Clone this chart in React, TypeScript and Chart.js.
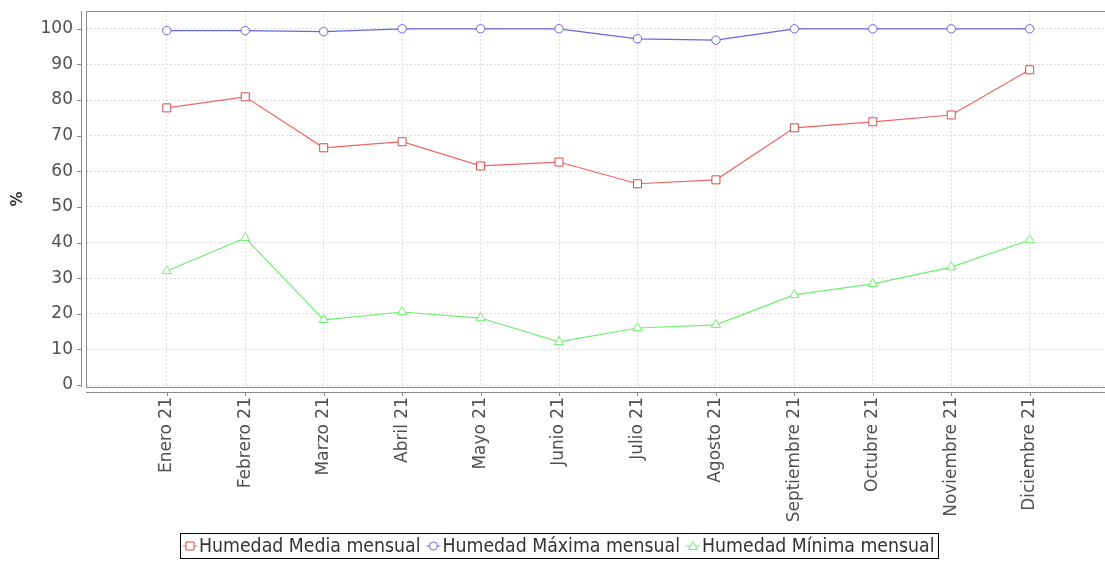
import React, { useEffect, useRef } from "react";
import { Chart, registerables } from "chart.js";

Chart.register(...registerables);

const MONTHS = [
  "Enero 21", "Febrero 21", "Marzo 21", "Abril 21", "Mayo 21", "Junio 21",
  "Julio 21", "Agosto 21", "Septiembre 21", "Octubre 21", "Noviembre 21", "Diciembre 21",
];
const MEDIA = [77.8, 80.9, 66.6, 68.3, 61.5, 62.6, 56.5, 57.6, 72.2, 73.9, 75.8, 88.5];
const MAXIMA = [99.5, 99.5, 99.2, 100, 100, 100, 97.2, 96.8, 100, 100, 100, 100];
const MINIMA = [32.0, 41.3, 18.3, 20.5, 18.8, 12.1, 16.0, 16.9, 25.3, 28.4, 33.1, 40.7];
const Y_TICKS = [0, 10, 20, 30, 40, 50, 60, 70, 80, 90, 100];
const SERIES_NAMES = ["Humedad Media mensual", "Humedad Máxima mensual", "Humedad Mínima mensual"];

const RED = "#f06464";
const RED_PT = "#d84c4c";
const BLUE = "#6666e0";
const GREEN = "#70ee70";

const toPoints = (arr: number[]) => arr.map((y, i) => ({ x: i, y }));

const framePlugin = {
  id: "frame",
  beforeDatasetsDraw(chart: any) {
    const { ctx, chartArea } = chart;
    const { left, right, top, bottom } = chartArea;
    ctx.save();
    ctx.strokeStyle = "#8a8a8a";
    ctx.lineWidth = 1;
    ctx.beginPath();
    ctx.moveTo(right, top + 0.5);
    ctx.lineTo(left + 0.5, top + 0.5);
    ctx.lineTo(left + 0.5, bottom + 0.5);
    ctx.lineTo(right, bottom + 0.5);
    ctx.moveTo(left - 5 + 0.5, top);
    ctx.lineTo(left - 5 + 0.5, bottom);
    ctx.moveTo(left, bottom + 5.5);
    ctx.lineTo(right, bottom + 5.5);
    ctx.stroke();
    const ys = chart.scales.y;
    ctx.beginPath();
    Y_TICKS.forEach((v) => {
      const py = Math.round(ys.getPixelForValue(v)) + 0.5;
      ctx.moveTo(left - 9, py);
      ctx.lineTo(left - 5, py);
    });
    const xs = chart.scales.x;
    MONTHS.forEach((_, i) => {
      const px = Math.round(xs.getPixelForValue(i)) + 0.5;
      ctx.moveTo(px, bottom + 6);
      ctx.lineTo(px, bottom + 9);
    });
    ctx.stroke();
    ctx.restore();
  },
};

function drawMarker(ctx: CanvasRenderingContext2D, style: string, x: number, y: number, color: string) {
  ctx.save();
  ctx.strokeStyle = color;
  ctx.fillStyle = "#fff";
  ctx.lineWidth = 1;
  ctx.beginPath();
  if (style === "rect") {
    ctx.rect(x - 4, y - 4, 8, 8);
  } else if (style === "circle") {
    ctx.arc(x, y, 4, 0, Math.PI * 2);
  } else {
    ctx.moveTo(x, y - 4.5);
    ctx.lineTo(x + 4.5, y + 3.5);
    ctx.lineTo(x - 4.5, y + 3.5);
    ctx.closePath();
  }
  ctx.fill();
  ctx.stroke();
  ctx.restore();
}

const legendPlugin = {
  id: "boxLegend",
  afterDraw(chart: any) {
    const { ctx } = chart;
    const dsets = chart.data.datasets;
    ctx.save();
    ctx.font = '19.3px "DejaVu Sans Condensed", "DejaVu Sans", sans-serif';
    const symW = 14;
    const gapText = 2;
    const gapItem = 6;
    const pad = 3;
    const widths = dsets.map((d: any) => ctx.measureText(d.label).width);
    const total = widths.reduce((a: number, w: number) => a + symW + gapText + w, 0) + gapItem * (dsets.length - 1) + pad * 2;
    const cx = 559;
    const boxTop = 533;
    const boxH = 25;
    const boxLeft = Math.round(cx - total / 2);
    ctx.strokeStyle = "#000";
    ctx.lineWidth = 1;
    ctx.strokeRect(boxLeft + 0.5, boxTop + 0.5, Math.round(total), boxH);
    let x = boxLeft + pad;
    const cy = boxTop + boxH / 2 + 0.5;
    dsets.forEach((d: any, i: number) => {
      ctx.strokeStyle = d.borderColor;
      ctx.beginPath();
      ctx.moveTo(x, cy);
      ctx.lineTo(x + symW, cy);
      ctx.stroke();
      drawMarker(ctx, d.pointStyle, x + symW / 2, cy, d.pointBorderColor);
      x += symW + gapText;
      ctx.fillStyle = "#333";
      ctx.textBaseline = "middle";
      ctx.textAlign = "left";
      ctx.fillText(d.label, x, cy + 1);
      x += widths[i] + gapItem;
    });
    ctx.restore();
  },
};

export default function App() {
  const ref = useRef<HTMLCanvasElement>(null);
  useEffect(() => {
    const chart = new Chart(ref.current!, {
      type: "line",
      data: {
        datasets: [
          {
            label: SERIES_NAMES[0],
            data: toPoints(MEDIA),
            borderColor: RED,
            pointBorderColor: RED_PT,
            pointBackgroundColor: "#fff",
            pointStyle: "rect",
            pointRadius: 5.66,
            borderWidth: 1.2,
            pointBorderWidth: 1,
            tension: 0,
          },
          {
            label: SERIES_NAMES[1],
            data: toPoints(MAXIMA),
            borderColor: BLUE,
            pointBorderColor: BLUE,
            pointBackgroundColor: "#fff",
            pointStyle: "circle",
            pointRadius: 4.2,
            borderWidth: 1.2,
            pointBorderWidth: 1,
            tension: 0,
          },
          {
            label: SERIES_NAMES[2],
            data: toPoints(MINIMA),
            borderColor: GREEN,
            pointBorderColor: GREEN,
            pointBackgroundColor: "#fff",
            pointStyle: "triangle",
            pointRadius: 5.3,
            borderWidth: 1.2,
            pointBorderWidth: 1,
            tension: 0,
          },
        ],
      },
      options: {
        responsive: false,
        animation: false,
        devicePixelRatio: 1,
        layout: { autoPadding: false, padding: { top: 11, left: 0, right: 0, bottom: 0 } },
        plugins: {
          legend: { display: false },
          tooltip: { enabled: false },
        },
        scales: {
          x: {
            type: "linear",
            min: -1.03,
            max: 11.96,
            afterBuildTicks: (scale: any) => {
              scale.ticks = MONTHS.map((_, i) => ({ value: i }));
            },
            afterFit: (scale: any) => {
              scale.height = 176;
              scale.paddingLeft = 0;
              scale.paddingRight = 0;
            },
            ticks: {
              autoSkip: false,
              maxRotation: 90,
              minRotation: 90,
              padding: 10,
              color: "#505050",
              font: { family: '"DejaVu Sans", sans-serif', size: 17 },
              callback: (v: any) => MONTHS[v as number] ?? "",
            },
            grid: { color: "#dddddd", tickLength: 0, drawTicks: false },
            border: { display: false, dash: [2, 2] },
          },
          y: {
            type: "linear",
            min: -0.56,
            max: 105,
            afterBuildTicks: (scale: any) => {
              scale.ticks = Y_TICKS.map((v) => ({ value: v }));
            },
            afterFit: (scale: any) => {
              scale.width = 86;
              scale.paddingTop = 0;
              scale.paddingBottom = 0;
            },
            ticks: {
              padding: 13,
              color: "#505050",
              font: { family: '"DejaVu Sans", sans-serif', size: 17 },
            },
            grid: { color: "#dddddd", tickLength: 0, drawTicks: false },
            border: { display: false, dash: [2, 2] },
            title: {
              display: true,
              text: "%",
              color: "#333",
              font: { family: '"DejaVu Sans", sans-serif', size: 15, weight: "bold" },
              padding: { top: 9, bottom: 0 },
            },
          },
        },
      },
      plugins: [framePlugin, legendPlugin],
    } as any);
    return () => chart.destroy();
  }, []);
  return (
    <div style={{ position: "absolute", left: 0, top: 0, width: 1105, height: 563, background: "#fff" }}>
      <canvas ref={ref} width={1105} height={563} style={{ display: "block" }} />
    </div>
  );
}
